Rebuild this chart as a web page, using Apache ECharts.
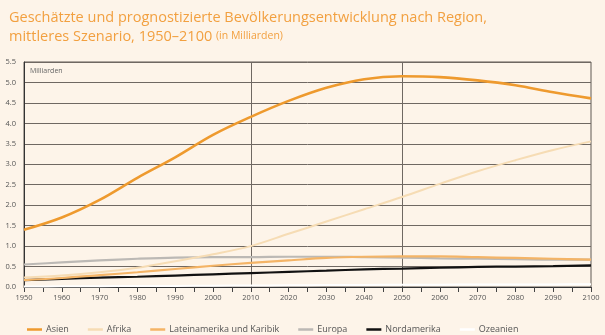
<!DOCTYPE html>
<html>
<head>
<meta charset="utf-8">
<script src="https://cdn.jsdelivr.net/npm/echarts@6/dist/echarts.min.js"></script>
<style>
  html, body { margin: 0; padding: 0; background: #fdf4e9; }
  #chart { width: 605px; height: 335px; }
</style>
</head>
<body>
<div id="chart"></div>
<script>
// Population by region in billions, 1950–2100 (medium variant)
const years = [1950, 1960, 1970, 1980, 1990, 2000, 2010, 2020, 2030, 2040, 2050, 2060, 2070, 2080, 2090, 2100];
const asien = [1.40, 1.70, 2.13, 2.67, 3.17, 3.72, 4.16, 4.55, 4.87, 5.08, 5.15, 5.13, 5.05, 4.93, 4.76, 4.61];
const afrika = [0.23, 0.28, 0.36, 0.47, 0.63, 0.80, 1.00, 1.30, 1.60, 1.90, 2.20, 2.52, 2.83, 3.10, 3.35, 3.56];
const lateinamerika = [0.17, 0.22, 0.29, 0.36, 0.44, 0.52, 0.59, 0.65, 0.71, 0.74, 0.75, 0.75, 0.73, 0.71, 0.69, 0.67];
const europa = [0.55, 0.60, 0.65, 0.69, 0.72, 0.73, 0.73, 0.74, 0.74, 0.73, 0.72, 0.70, 0.69, 0.68, 0.67, 0.67];
const nordamerika = [0.17, 0.20, 0.23, 0.25, 0.28, 0.31, 0.34, 0.37, 0.40, 0.43, 0.45, 0.47, 0.49, 0.50, 0.51, 0.53];
const ozeanien = [0.013, 0.016, 0.020, 0.023, 0.027, 0.031, 0.037, 0.042, 0.047, 0.051, 0.055, 0.058, 0.060, 0.062, 0.064, 0.066];
const markerYears = [2010, 2050];

const seriesDefs = [
  { name: 'Asien', data: asien, color: '#ee9a2e', width: 2.6 },
  { name: 'Afrika', data: afrika, color: '#f6dcb4', width: 2 },
  { name: 'Lateinamerika und Karibik', data: lateinamerika, color: '#f4b466', width: 2.2 },
  { name: 'Europa', data: europa, color: '#bcb9b5', width: 2.2 },
  { name: 'Nordamerika', data: nordamerika, color: '#111111', width: 2.2 },
  { name: 'Ozeanien', data: ozeanien, color: '#ffffff', width: 2 }
];

const font = 'Open Sans, Lato, sans-serif';
const chart = echarts.init(document.getElementById('chart'));

const series = seriesDefs.map((s, i) => ({
  name: s.name,
  type: 'line',
  smooth: 0.35,
  showSymbol: false,
  symbol: 'none',
  z: 10 - i,
  data: years.map((y, k) => [y, s.data[k]]),
  lineStyle: { color: s.color, width: s.width },
  itemStyle: { color: s.color }
}));

// vertical reference lines
series.push({
  type: 'line',
  data: [],
  silent: true,
  markLine: {
    silent: true,
    symbol: 'none',
    label: { show: false },
    lineStyle: { color: '#6f6862', width: 1, type: 'solid' },
    data: markerYears.map(y => ({ xAxis: y }))
  }
});

chart.setOption({
  backgroundColor: '#fdf4e9',
  animation: false,
  title: {
    text: 'Geschätzte und prognostizierte Bevölkerungsentwicklung nach Region,\nmittleres Szenario, 1950–2100 {s|(in Milliarden)}',
    left: 4,
    top: 3,
    textStyle: {
      color: '#f2a040',
      fontFamily: font,
      fontSize: 14.5,
      fontWeight: 'normal',
      lineHeight: 19,
      rich: { s: { fontSize: 10.5, color: '#f2a040', fontFamily: font } }
    }
  },
  legend: {
    left: 22,
    top: 320,
    icon: 'rect',
    itemWidth: 15,
    itemHeight: 2.5,
    itemGap: 19,
    textStyle: { fontFamily: font, fontSize: 9, color: '#555', padding: [0, 0, 0, -1] },
    data: seriesDefs.map(s => s.name)
  },
  grid: {
    left: 24, right: 14, top: 62, bottom: 48,
    show: true,
    borderColor: '#5f5852',
    borderWidth: 1
  },
  xAxis: {
    type: 'value',
    min: 1950, max: 2100, interval: 10,
    axisLine: { show: true, lineStyle: { color: '#333', width: 1 } },
    axisTick: { show: true, length: 5, inside: false, lineStyle: { color: '#444' } },
    minorTick: { show: true, splitNumber: 2, length: 5, lineStyle: { color: '#444' } },
    splitLine: { show: false },
    axisLabel: {
      fontFamily: font, fontSize: 7.5, color: '#555', margin: 7,
      formatter: v => String(v)
    }
  },
  yAxis: {
    type: 'value',
    min: 0, max: 5.5, interval: 0.5,
    axisLine: { show: true, lineStyle: { color: '#333' } },
    axisTick: { show: false },
    splitLine: { show: true, lineStyle: { color: '#6f6862', width: 1 } },
    axisLabel: {
      fontFamily: font, fontSize: 7.5, color: '#555', margin: 8,
      formatter: v => v.toFixed(1)
    }
  },
  graphic: [{
    type: 'text',
    left: 30, top: 67,
    style: { text: 'Milliarden', fontFamily: font, fontSize: 7, fill: '#666' }
  }],
  series: series
});
</script>
</body>
</html>
